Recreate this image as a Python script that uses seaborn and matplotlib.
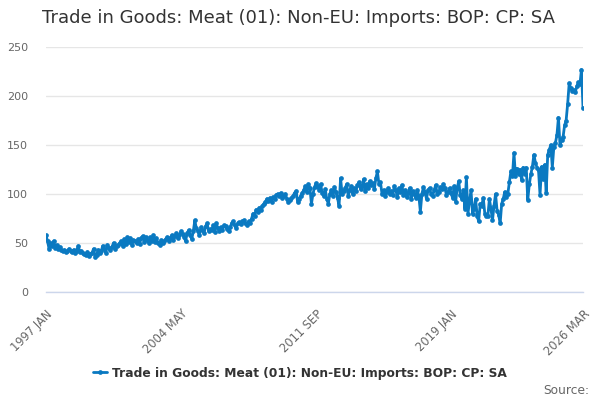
import matplotlib
matplotlib.use("Agg")
import matplotlib.pyplot as plt
import seaborn as sns
import pandas as pd
import numpy as np

title = "Trade in Goods: Meat (01): Non-EU: Imports: BOP: CP: SA"
series_name = "Trade in Goods: Meat (01): Non-EU: Imports: BOP: CP: SA"

# monthly values, 1997 JAN .. 2026 MAR
v1997 = [58, 52, 44, 50, 47, 52, 45, 48, 44, 46, 43, 42]
v1998 = [43, 41, 42, 44, 42, 41, 43, 40, 42, 47, 41, 42]
v1999 = [40, 39, 38, 41, 37, 39, 40, 44, 36, 38, 43, 40]
v2000 = [42, 47, 44, 40, 48, 45, 43, 46, 50, 44, 47, 48]
v2001 = [50, 52, 47, 54, 49, 56, 51, 55, 48, 53, 52, 50]
v2002 = [54, 49, 55, 57, 51, 56, 53, 50, 56, 52, 58, 51]
v2003 = [55, 50, 48, 53, 50, 52, 54, 56, 52, 55, 58, 53]
v2004 = [57, 60, 55, 58, 62, 59, 56, 52, 60, 63, 58, 54]
v2005 = [62, 73, 65, 62, 58, 66, 63, 60, 67, 70, 62, 64]
v2006 = [63, 68, 61, 70, 65, 62, 66, 63, 68, 67, 64, 62]
v2007 = [66, 70, 72, 68, 65, 70, 71, 69, 72, 73, 70, 68]
v2008 = [72, 70, 75, 80, 78, 84, 82, 86, 84, 88, 90, 92]
v2009 = [95, 93, 96, 92, 97, 95, 99, 100, 98, 101, 96, 98]
v2010 = [100, 95, 92, 94, 96, 98, 101, 103, 92, 95, 98, 101]
v2011 = [104, 108, 102, 110, 106, 90, 100, 107, 111, 108, 104, 110]
v2012 = [101, 98, 105, 95, 90, 100, 104, 98, 107, 102, 96, 88]
v2013 = [116, 100, 103, 106, 110, 98, 104, 108, 100, 106, 103, 109]
v2014 = [112, 105, 108, 115, 103, 110, 106, 113, 109, 111, 105, 116]
v2015 = [123, 110, 112, 100, 104, 98, 102, 106, 100, 103, 99, 108]
v2016 = [104, 97, 106, 102, 109, 99, 104, 97, 101, 106, 95, 103]
v2017 = [100, 96, 104, 98, 82, 100, 107, 102, 95, 104, 106, 100]
v2018 = [98, 104, 109, 100, 102, 107, 105, 110, 106, 99, 102, 106]
v2019 = [101, 96, 108, 92, 106, 113, 99, 95, 104, 85, 117, 80]
v2020 = [92, 104, 80, 85, 95, 78, 72, 90, 88, 96, 80, 78]
v2021 = [78, 95, 85, 73, 88, 100, 83, 79, 70, 90, 95, 102]
v2022 = [97, 100, 112, 123, 118, 142, 118, 126, 120, 125, 114, 127]
v2023 = [120, 127, 94, 110, 120, 128, 140, 132, 127, 124, 99, 128]
v2024 = [115, 130, 101, 140, 145, 150, 127, 148, 152, 160, 178, 150]
v2025 = [155, 158, 170, 175, 192, 213, 208, 205, 206, 204, 210, 214]
v2026 = [212, 227, 188]

values = (v1997 + v1998 + v1999 + v2000 + v2001 + v2002 + v2003 + v2004 + v2005
          + v2006 + v2007 + v2008 + v2009 + v2010 + v2011 + v2012 + v2013 + v2014
          + v2015 + v2016 + v2017 + v2018 + v2019 + v2020 + v2021 + v2022 + v2023
          + v2024 + v2025 + v2026)

tick_labels = {0: "1997 JAN", 88: "2004 MAY", 176: "2011 SEP", 264: "2019 JAN", 350: "2026 MAR"}
y_ticks = [0, 50, 100, 150, 200, 250]

df = pd.DataFrame({"idx": np.arange(len(values)), "value": values, "series": series_name})

sns.set_style("white")
plt.rcParams['font.family'] = ['DejaVu Sans']

fig = plt.figure(figsize=(6, 4), dpi=100)
ax = fig.add_axes([46/600, 1-292/400, (583-46)/600, (292-47)/400])

color = "#0a79c1"
sns.lineplot(data=df, x="idx", y="value", hue="series", palette=[color], ax=ax,
             linewidth=2, marker="o", markersize=3.4, markeredgewidth=0, legend=False)

ax.set_xlim(0, len(values) - 1)
ax.set_ylim(0, 250)
ax.set_xlabel("")
ax.set_ylabel("")

ax.set_yticks(y_ticks)
ax.set_yticklabels([str(t) for t in y_ticks], color="#666666", fontsize=8)
ax.yaxis.grid(True, color="#e6e6e6", linewidth=1)
ax.tick_params(axis="y", length=0, pad=13)

xt = list(range(0, 331, 22)) + [350]
ax.set_xticks(xt)
ax.set_xticklabels([tick_labels.get(t, "") for t in xt], rotation=45, ha="right",
                   rotation_mode="anchor", color="#666666", fontsize=8.3)
ax.tick_params(axis="x", length=10, width=1, color="#ccd6eb", direction="out", pad=1)

for s in ["top", "right", "left"]:
    ax.spines[s].set_visible(False)
ax.spines["bottom"].set_color("#ccd6eb")
ax.spines["bottom"].set_linewidth(1)
ax.set_axisbelow(True)

fig.text(42/600, 1-18/400, title, fontsize=13, color="#333333", ha="left", va="center")

# legend
from matplotlib.lines import Line2D
handle = Line2D([0], [0], color=color, linewidth=2, marker="o", markersize=3.4, markeredgewidth=0)
fig.legend([handle], [series_name], loc="center", bbox_to_anchor=(0.5, 1-373/400),
           frameon=False, prop={"weight": "bold", "size": 8.8}, handlelength=1.2,
           handletextpad=0.4, labelcolor="#333333")

fig.text(589/600, 1-390/400, "Source:", fontsize=8.8, color="#666666", ha="right", va="center")

fig.savefig("out.png", dpi=100)
